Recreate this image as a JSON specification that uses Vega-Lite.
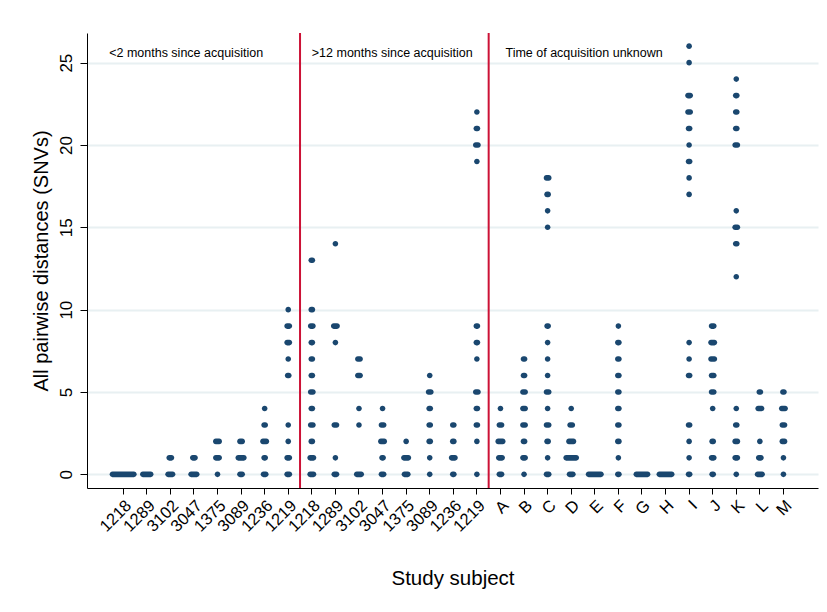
{
  "$schema": "https://vega.github.io/schema/vega-lite/v6.json",
  "width": 731,
  "height": 455,
  "autosize": {"type": "none"},
  "padding": {"left": 87, "top": 33, "right": 9, "bottom": 124},
  "background": "white",
  "config": {
    "view": {"stroke": null},
    "font": "Liberation Sans"
  },
  "encoding": {
    "x": {
      "field": "s",
      "type": "nominal",
      "scale": {
        "domain": ["a|1218", "a|1289", "a|3102", "a|3047", "a|1375", "a|3089", "a|1236", "a|1219",
                   "b|1218", "b|1289", "b|3102", "b|3047", "b|1375", "b|3089", "b|1236", "b|1219",
                   "c|A", "c|B", "c|C", "c|D", "c|E", "c|F", "c|G", "c|H", "c|I", "c|J", "c|K", "c|L", "c|M"],
        "type": "band",
        "paddingInner": 0,
        "paddingOuter": 1.037,
        "align": 0.517
      },
      "axis": {
        "title": "Study subject",
        "titleFontSize": 20.5,
        "titleFontWeight": "normal",
        "titleColor": "#000000",
        "titleY": 90,
        "titleBaseline": "middle",
        "labelExpr": "split(datum.value, '|')[1]",
        "labelAngle": -45,
        "labelFontSize": 16.5,
        "labelColor": "#000000",
        "labelPadding": 3,
        "tickSize": 6,
        "tickColor": "#000000",
        "domainColor": "#000000",
        "grid": false
      }
    },
    "y": {
      "field": "d",
      "type": "quantitative",
      "scale": {"domain": [-0.83, 26.8], "nice": false, "zero": false},
      "axis": {
        "title": "All pairwise distances (SNVs)",
        "titleFontSize": 20,
        "titleFontWeight": "normal",
        "titleColor": "#000000",
        "titlePadding": 6,
        "values": [0, 5, 10, 15, 20, 25],
        "labelAngle": -90,
        "labelFontSize": 17,
        "labelColor": "#000000",
        "labelPadding": 5,
        "tickSize": 7,
        "tickColor": "#000000",
        "domainColor": "#000000",
        "grid": true,
        "gridColor": "#e8f0f2",
        "gridWidth": 1.8
      }
    }
  },
  "layer": [
    {
      "data": {
        "values": [
          {"s": "a|1218", "d": 0, "n": 20},
          {"s": "a|1289", "d": 0, "n": 8},
          {"s": "a|3102", "d": 0, "n": 5}, {"s": "a|3102", "d": 1, "n": 3},
          {"s": "a|3047", "d": 0, "n": 6}, {"s": "a|3047", "d": 1, "n": 3},
          {"s": "a|1375", "d": 0, "n": 1}, {"s": "a|1375", "d": 1, "n": 4}, {"s": "a|1375", "d": 2, "n": 4},
          {"s": "a|3089", "d": 0, "n": 3}, {"s": "a|3089", "d": 1, "n": 6}, {"s": "a|3089", "d": 2, "n": 3},
          {"s": "a|1236", "d": 0, "n": 3}, {"s": "a|1236", "d": 1, "n": 2}, {"s": "a|1236", "d": 2, "n": 4}, {"s": "a|1236", "d": 3, "n": 2}, {"s": "a|1236", "d": 4, "n": 1},
          {"s": "a|1219", "d": 0, "n": 3}, {"s": "a|1219", "d": 1, "n": 3}, {"s": "a|1219", "d": 2, "n": 1}, {"s": "a|1219", "d": 3, "n": 1}, {"s": "a|1219", "d": 6, "n": 2}, {"s": "a|1219", "d": 7, "n": 1}, {"s": "a|1219", "d": 8, "n": 3}, {"s": "a|1219", "d": 9, "n": 3}, {"s": "a|1219", "d": 10, "n": 1},
          {"s": "b|1218", "d": 0, "n": 4}, {"s": "b|1218", "d": 1, "n": 4}, {"s": "b|1218", "d": 2, "n": 2}, {"s": "b|1218", "d": 3, "n": 3}, {"s": "b|1218", "d": 4, "n": 2}, {"s": "b|1218", "d": 5, "n": 3}, {"s": "b|1218", "d": 6, "n": 2}, {"s": "b|1218", "d": 7, "n": 2}, {"s": "b|1218", "d": 8, "n": 2}, {"s": "b|1218", "d": 9, "n": 3}, {"s": "b|1218", "d": 10, "n": 2}, {"s": "b|1218", "d": 13, "n": 2},
          {"s": "b|1289", "d": 0, "n": 3}, {"s": "b|1289", "d": 1, "n": 1}, {"s": "b|1289", "d": 3, "n": 3}, {"s": "b|1289", "d": 8, "n": 1}, {"s": "b|1289", "d": 9, "n": 4}, {"s": "b|1289", "d": 14, "n": 1},
          {"s": "b|3102", "d": 0, "n": 5}, {"s": "b|3102", "d": 3, "n": 1}, {"s": "b|3102", "d": 4, "n": 1}, {"s": "b|3102", "d": 6, "n": 3}, {"s": "b|3102", "d": 7, "n": 3},
          {"s": "b|3047", "d": 0, "n": 3}, {"s": "b|3047", "d": 1, "n": 2}, {"s": "b|3047", "d": 2, "n": 4}, {"s": "b|3047", "d": 3, "n": 3}, {"s": "b|3047", "d": 4, "n": 1},
          {"s": "b|1375", "d": 0, "n": 4}, {"s": "b|1375", "d": 1, "n": 5}, {"s": "b|1375", "d": 2, "n": 1},
          {"s": "b|3089", "d": 0, "n": 1}, {"s": "b|3089", "d": 1, "n": 1}, {"s": "b|3089", "d": 2, "n": 2}, {"s": "b|3089", "d": 3, "n": 2}, {"s": "b|3089", "d": 4, "n": 2}, {"s": "b|3089", "d": 5, "n": 3}, {"s": "b|3089", "d": 6, "n": 1},
          {"s": "b|1236", "d": 0, "n": 2}, {"s": "b|1236", "d": 1, "n": 4}, {"s": "b|1236", "d": 2, "n": 2}, {"s": "b|1236", "d": 3, "n": 2},
          {"s": "b|1219", "d": 0, "n": 1}, {"s": "b|1219", "d": 2, "n": 1}, {"s": "b|1219", "d": 3, "n": 2}, {"s": "b|1219", "d": 4, "n": 2}, {"s": "b|1219", "d": 5, "n": 3}, {"s": "b|1219", "d": 7, "n": 1}, {"s": "b|1219", "d": 8, "n": 2}, {"s": "b|1219", "d": 9, "n": 2}, {"s": "b|1219", "d": 19, "n": 1}, {"s": "b|1219", "d": 20, "n": 3}, {"s": "b|1219", "d": 21, "n": 2}, {"s": "b|1219", "d": 22, "n": 1},
          {"s": "c|A", "d": 0, "n": 3}, {"s": "c|A", "d": 1, "n": 4}, {"s": "c|A", "d": 2, "n": 5}, {"s": "c|A", "d": 3, "n": 3}, {"s": "c|A", "d": 4, "n": 1},
          {"s": "c|B", "d": 0, "n": 1}, {"s": "c|B", "d": 1, "n": 3}, {"s": "c|B", "d": 2, "n": 2}, {"s": "c|B", "d": 3, "n": 3}, {"s": "c|B", "d": 4, "n": 3}, {"s": "c|B", "d": 5, "n": 3}, {"s": "c|B", "d": 6, "n": 2}, {"s": "c|B", "d": 7, "n": 2},
          {"s": "c|C", "d": 0, "n": 3}, {"s": "c|C", "d": 1, "n": 1}, {"s": "c|C", "d": 2, "n": 2}, {"s": "c|C", "d": 3, "n": 3}, {"s": "c|C", "d": 4, "n": 1}, {"s": "c|C", "d": 5, "n": 3}, {"s": "c|C", "d": 6, "n": 1}, {"s": "c|C", "d": 7, "n": 1}, {"s": "c|C", "d": 8, "n": 1}, {"s": "c|C", "d": 9, "n": 2}, {"s": "c|C", "d": 15, "n": 1}, {"s": "c|C", "d": 16, "n": 1}, {"s": "c|C", "d": 17, "n": 2}, {"s": "c|C", "d": 18, "n": 3},
          {"s": "c|D", "d": 0, "n": 4}, {"s": "c|D", "d": 1, "n": 10}, {"s": "c|D", "d": 2, "n": 5}, {"s": "c|D", "d": 3, "n": 3}, {"s": "c|D", "d": 4, "n": 1},
          {"s": "c|E", "d": 0, "n": 12},
          {"s": "c|F", "d": 0, "n": 2}, {"s": "c|F", "d": 1, "n": 1}, {"s": "c|F", "d": 2, "n": 2}, {"s": "c|F", "d": 3, "n": 2}, {"s": "c|F", "d": 4, "n": 2}, {"s": "c|F", "d": 5, "n": 2}, {"s": "c|F", "d": 6, "n": 2}, {"s": "c|F", "d": 7, "n": 2}, {"s": "c|F", "d": 8, "n": 2}, {"s": "c|F", "d": 9, "n": 1},
          {"s": "c|G", "d": 0, "n": 11},
          {"s": "c|H", "d": 0, "n": 12},
          {"s": "c|I", "d": 0, "n": 2}, {"s": "c|I", "d": 1, "n": 1}, {"s": "c|I", "d": 2, "n": 1}, {"s": "c|I", "d": 3, "n": 2}, {"s": "c|I", "d": 6, "n": 2}, {"s": "c|I", "d": 7, "n": 1}, {"s": "c|I", "d": 8, "n": 1}, {"s": "c|I", "d": 17, "n": 1}, {"s": "c|I", "d": 18, "n": 1}, {"s": "c|I", "d": 19, "n": 2}, {"s": "c|I", "d": 20, "n": 1}, {"s": "c|I", "d": 21, "n": 2}, {"s": "c|I", "d": 22, "n": 3}, {"s": "c|I", "d": 23, "n": 3}, {"s": "c|I", "d": 25, "n": 1}, {"s": "c|I", "d": 26, "n": 1},
          {"s": "c|J", "d": 0, "n": 2}, {"s": "c|J", "d": 1, "n": 3}, {"s": "c|J", "d": 2, "n": 2}, {"s": "c|J", "d": 4, "n": 1}, {"s": "c|J", "d": 5, "n": 3}, {"s": "c|J", "d": 6, "n": 3}, {"s": "c|J", "d": 7, "n": 4}, {"s": "c|J", "d": 8, "n": 4}, {"s": "c|J", "d": 9, "n": 3},
          {"s": "c|K", "d": 0, "n": 1}, {"s": "c|K", "d": 1, "n": 3}, {"s": "c|K", "d": 2, "n": 3}, {"s": "c|K", "d": 3, "n": 2}, {"s": "c|K", "d": 4, "n": 1}, {"s": "c|K", "d": 12, "n": 1}, {"s": "c|K", "d": 14, "n": 2}, {"s": "c|K", "d": 15, "n": 3}, {"s": "c|K", "d": 16, "n": 1}, {"s": "c|K", "d": 20, "n": 3}, {"s": "c|K", "d": 21, "n": 2}, {"s": "c|K", "d": 22, "n": 2}, {"s": "c|K", "d": 23, "n": 2}, {"s": "c|K", "d": 24, "n": 1},
          {"s": "c|L", "d": 0, "n": 5}, {"s": "c|L", "d": 1, "n": 3}, {"s": "c|L", "d": 2, "n": 1}, {"s": "c|L", "d": 4, "n": 4}, {"s": "c|L", "d": 5, "n": 2},
          {"s": "c|M", "d": 0, "n": 1}, {"s": "c|M", "d": 1, "n": 1}, {"s": "c|M", "d": 2, "n": 3}, {"s": "c|M", "d": 3, "n": 3}, {"s": "c|M", "d": 4, "n": 4}, {"s": "c|M", "d": 5, "n": 2}
        ]
      },
      "mark": {"type": "tick", "color": "#1a476f", "opacity": 1, "thickness": 5.6, "cornerRadius": 2.8},
      "encoding": {
        "size": {"field": "n", "type": "quantitative", "scale": {"domain": [1, 20], "range": [5.6, 27], "zero": false}, "legend": null}
      }
    },
    {
      "data": {"values": [{"s": "a|1219"}, {"s": "b|1219"}]},
      "mark": {"type": "rule", "color": "#cc1236", "strokeWidth": 2},
      "encoding": {
        "x": {"field": "s", "type": "nominal", "bandPosition": 1},
        "y": null
      }
    },
    {
      "data": {"values": [{"s": "a|1218", "d": 25.56, "label": "<2 months since acquisition"}]},
      "mark": {"type": "text", "align": "left", "baseline": "middle", "fontSize": 12.5, "fill": "#000000", "dx": -14},
      "encoding": {
        "text": {"field": "label", "type": "nominal"}
      }
    },
    {
      "data": {"values": [{"s": "b|1218", "d": 25.56, "label": ">12 months since acquisition"}]},
      "mark": {"type": "text", "align": "left", "baseline": "middle", "fontSize": 12.5, "fill": "#000000", "dx": 0},
      "encoding": {
        "text": {"field": "label", "type": "nominal"}
      }
    },
    {
      "data": {"values": [{"s": "c|A", "d": 25.56, "label": "Time of acquisition unknown"}]},
      "mark": {"type": "text", "align": "left", "baseline": "middle", "fontSize": 12.5, "fill": "#000000", "dx": 5},
      "encoding": {
        "text": {"field": "label", "type": "nominal"}
      }
    }
  ]
}
